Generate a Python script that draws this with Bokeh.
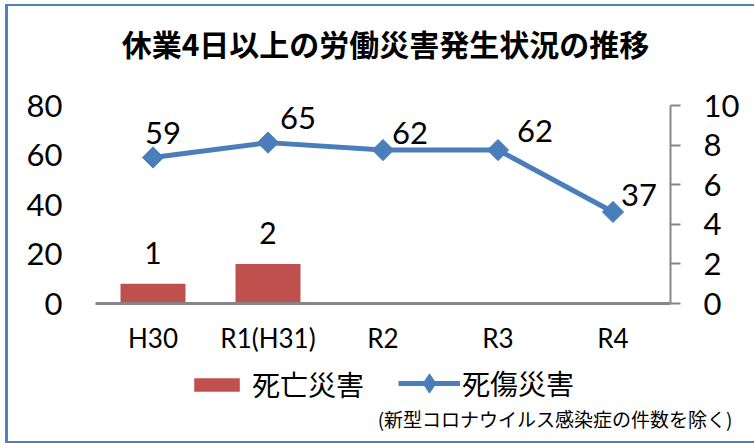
import numpy as np
from bokeh.plotting import figure
from bokeh.layouts import column
from bokeh.models import (FactorRange, Range1d, LinearAxis, FixedTicker, Label, Title,
                          Legend, LegendItem, ColumnDataSource)
from bokeh.core.properties import value
from bokeh.embed import file_html
from bokeh.resources import INLINE

# ---- data ----
categories = ["H30", "R1(H31)", "R2", "R3", "R4"]
deaths = [1, 2, 0, 0, 0]            # 死亡災害 (right axis)
casualties = [59, 65, 62, 62, 37]   # 死傷災害 (left axis)
left_ticks = [0, 20, 40, 60, 80]
right_ticks = [0, 2, 4, 6, 8, 10]

title_text = "休業4日以上の労働災害発生状況の推移"
bar_name = "死亡災害"
line_name = "死傷災害"
note_text = "(新型コロナウイルス感染症の件数を除く)"

# ---- label placement (styling) ----
line_label_dx = [10, 30, 27, 37, 26]
line_label_dy = [-24, -25, -17, -19, -17]

BAR = "#C0504D"
LINE = "#4A7EBB"
AXIS = "#868686"
FRAME = "#4F81BD"
JP = "Noto Sans CJK JP"
NUM = "Lato"
W = 746


def blank(h, **kw):
    f = figure(width=W, height=h, x_range=Range1d(0, 100), y_range=Range1d(0, 100),
               x_axis_type=None, y_axis_type=None, output_backend="svg",
               toolbar_location=None, min_border=0, **kw)
    f.outline_line_color = None
    f.background_fill_color = "white"
    f.border_fill_color = "white"
    return f


# ---- top: title ----
p0 = blank(69)
p0.add_layout(Label(x=290, y=33, x_units="screen", y_units="screen",
                    text=title_text, text_align="center", text_baseline="middle",
                    text_font=JP, text_font_style="bold", text_font_size="30px",
                    text_color="black"))

# ---- main chart ----
p = figure(x_range=FactorRange(factors=categories, range_padding=0),
           y_range=Range1d(0, 80), width=W, height=285,
           output_backend="svg", toolbar_location=None,
           min_border_left=87, min_border_right=84,
           min_border_top=30, min_border_bottom=57)
p.extra_y_ranges = {"right": Range1d(0, 10)}
p.xgrid.grid_line_color = None
p.ygrid.grid_line_color = None
p.outline_line_color = None
p.background_fill_color = "white"
p.border_fill_color = "white"

p.yaxis.ticker = FixedTicker(ticks=left_ticks)
p.yaxis.axis_line_color = None
p.yaxis.major_tick_line_color = None
p.yaxis.minor_tick_line_color = None
p.yaxis.major_tick_out = 0
p.yaxis.major_tick_in = 0
p.yaxis.major_label_standoff = 33
p.yaxis.major_label_text_font = NUM
p.yaxis.major_label_text_font_size = "31px"
p.yaxis.major_label_text_color = "black"

ra = LinearAxis(y_range_name="right", ticker=FixedTicker(ticks=right_ticks))
ra.axis_line_color = AXIS
ra.axis_line_width = 2
ra.major_tick_line_color = AXIS
ra.major_tick_line_width = 2
ra.major_tick_out = 10
ra.major_tick_in = 0
ra.minor_tick_line_color = None
ra.major_label_standoff = 23
ra.major_label_text_font = NUM
ra.major_label_text_font_size = "31px"
ra.major_label_text_color = "black"
p.add_layout(ra, "right")

p.xaxis.axis_line_color = AXIS
p.xaxis.axis_line_width = 3
p.xaxis.major_tick_line_color = None
p.xaxis.major_tick_out = 0
p.xaxis.major_tick_in = 0
p.xaxis.major_label_standoff = 18
p.xaxis.major_label_text_font = NUM
p.xaxis.major_label_text_font_size = "26px"
p.xaxis.major_label_text_color = "black"

p.vbar(x=categories, top=deaths, width=0.565, y_range_name="right",
       fill_color=BAR, line_color=None)
bx = [c for c, d in zip(categories, deaths) if d > 0]
by = [d for d in deaths if d > 0]
p.text(x=bx, y=by, text=[str(d) for d in by], y_range_name="right",
       y_offset=-31, text_align="center", text_baseline="middle",
       text_font=value(NUM), text_font_size="30px", text_color="black")

src = ColumnDataSource(dict(x=categories, y=casualties,
                            lbl=[str(v) for v in casualties],
                            dx=line_label_dx, dy=line_label_dy))
p.line(x="x", y="y", source=src, line_color=LINE, line_width=5)
p.scatter(x="x", y="y", source=src, marker="square", angle=np.pi / 4,
          size=15, fill_color=LINE, line_color=LINE)
p.text(x="x", y="y", text="lbl", source=src, x_offset="dx", y_offset="dy",
       text_align="center", text_baseline="middle",
       text_font=value(NUM), text_font_size="31px", text_color="black")

# ---- bottom: legend + note ----
p2 = blank(81, min_border_bottom=37)
# legend proxies (kept off-screen, only their legend glyphs are visible)
lb = p2.vbar(x=[-500], top=[-400], bottom=[-500], width=1, fill_color=BAR, line_color=None)
ll = p2.line(x=[-500, -499], y=[-500, -500], line_color=LINE, line_width=5)
lm = p2.scatter(x=[-500], y=[-500], marker="diamond", size=15,
                fill_color=LINE, line_color=LINE)
common = dict(padding=0, margin=0, spacing=0, border_line_color=None,
              background_fill_alpha=0, label_text_font=JP,
              label_text_font_size="28px", label_text_color="black")
leg1 = Legend(items=[LegendItem(label=bar_name, renderers=[lb])],
              location=(93, 0), glyph_width=57, glyph_height=17,
              label_standoff=7, **common)
leg2 = Legend(items=[LegendItem(label=line_name, renderers=[ll, lm])],
              location=(303, -3), glyph_width=62, glyph_height=48,
              label_standoff=2, **common)
p2.add_layout(leg1, "center")
p2.add_layout(leg2, "center")
p2.add_layout(Title(text=note_text, align="right", offset=-62, standoff=-3,
                    text_font=JP, text_font_size="19px", text_font_style="normal",
                    text_color="black"), "below")

layout = column(p0, p, p2, spacing=0)
layout.margin = (4, 0, 0, 5)
layout.styles = {"border-left": f"3px solid {FRAME}",
                 "border-top": f"2px solid {FRAME}",
                 "border-bottom": f"2px solid {FRAME}"}

open("out.html", "w").write(file_html(layout, INLINE))
